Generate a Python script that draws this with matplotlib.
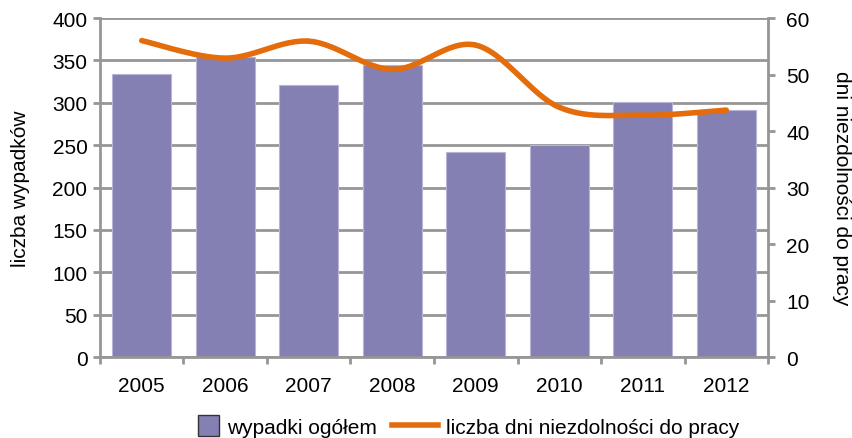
import numpy as np
import matplotlib.pyplot as plt
from matplotlib.patches import Patch, Rectangle
from matplotlib.lines import Line2D
from matplotlib.legend_handler import HandlerPatch

plt.rcParams['font.family'] = ['Liberation Sans', 'DejaVu Sans']

years = ["2005", "2006", "2007", "2008", "2009", "2010", "2011", "2012"]
accidents = [334, 354, 321, 345, 242, 250, 301, 292]
sick_days = [56.0, 52.9, 55.9, 50.9, 55.2, 44.2, 42.8, 43.7]

bar_color = "#8480B4"
line_color = "#E46C0A"
grid_color = "#969696"
fs = 15


def smooth(xs, ys, n=30):
    # Catmull-Rom style smoothing like Excel's smoothed line
    xs = np.asarray(xs, float)
    ys = np.asarray(ys, float)
    px = np.concatenate([[xs[0]], xs, [xs[-1]]])
    py = np.concatenate([[ys[0]], ys, [ys[-1]]])
    outx, outy = [], []
    t = np.linspace(0, 1, n)
    for i in range(1, len(px) - 2):
        p0, p1, p2, p3 = py[i - 1], py[i], py[i + 1], py[i + 2]
        q0, q1, q2, q3 = px[i - 1], px[i], px[i + 1], px[i + 2]
        for arr, a0, a1, a2, a3 in ((outy, p0, p1, p2, p3), (outx, q0, q1, q2, q3)):
            arr.extend(0.5 * (2 * a1 + (-a0 + a2) * t
                              + (2 * a0 - 5 * a1 + 4 * a2 - a3) * t ** 2
                              + (-a0 + 3 * a1 - 3 * a2 + a3) * t ** 3))
    return np.array(outx), np.array(outy)


def square_patch(legend, orig_handle, xdescent, ydescent, width, height, fontsize):
    # square box at the right side of the handle area
    side = height * 1.15
    return Rectangle((width - side - xdescent, -ydescent - (side - height) / 2),
                     side, side)


fig = plt.figure(figsize=(8.53, 4.39), dpi=100)
ax = fig.add_axes([0.1172, 0.1845, 0.7832, 0.7722])
x = np.arange(len(years))

ax.set_axisbelow(True)
ax.yaxis.grid(True, color=grid_color, linewidth=2)
ax.bar(x, accidents, width=0.71, color=bar_color, edgecolor="#B8B4D8",
       linewidth=0.8, zorder=2)
ax.set_xlim(-0.5, len(years) - 0.5)
ax.set_ylim(0, 400)
ax.set_yticks(range(0, 401, 50))
ax.set_xticks(np.arange(-0.5, len(years), 1))
ax.set_xticklabels([])
ax.set_xticks(x, minor=True)
ax.set_xticklabels(years, minor=True)
ax.tick_params(axis="x", which="minor", length=0, pad=14, labelsize=fs)
ax.tick_params(axis="x", which="major", length=5, width=2, color=grid_color)
ax.tick_params(axis="y", length=5, width=2, color=grid_color, labelsize=fs, pad=4)
ax.set_ylabel("liczba wypadków", fontsize=fs, labelpad=16)

for side in ["top", "right"]:
    ax.spines[side].set_visible(False)
for side in ["left", "bottom"]:
    ax.spines[side].set_color(grid_color)
    ax.spines[side].set_linewidth(2)

ax2 = ax.twinx()
sx, sy = smooth(x, sick_days)
ax2.plot(sx, sy, color=line_color, linewidth=4, solid_capstyle="round", zorder=3)
ax2.set_ylim(0, 60)
ax2.set_yticks(range(0, 61, 10))
ax2.tick_params(axis="y", length=5, width=2, color=grid_color, labelsize=fs, pad=8)
ax2.set_ylabel("dni niezdolności do pracy", fontsize=fs, rotation=270, labelpad=30)
for side in ["top", "left", "bottom"]:
    ax2.spines[side].set_visible(False)
ax2.spines["right"].set_color(grid_color)
ax2.spines["right"].set_linewidth(2)

handles = [Patch(facecolor=bar_color, edgecolor="#333333", linewidth=1),
           Line2D([], [], color=line_color, linewidth=4)]
fig.legend(handles, ["wypadki ogółem", "liczba dni niezdolności do pracy"],
           loc="lower center", bbox_to_anchor=(0.535, -0.04), ncol=2,
           frameon=False, fontsize=fs, handlelength=2.2, handleheight=1.0,
           columnspacing=0.7, handletextpad=0.4,
           handler_map={Patch: HandlerPatch(patch_func=square_patch)})

fig.savefig("out.png", dpi=100)
